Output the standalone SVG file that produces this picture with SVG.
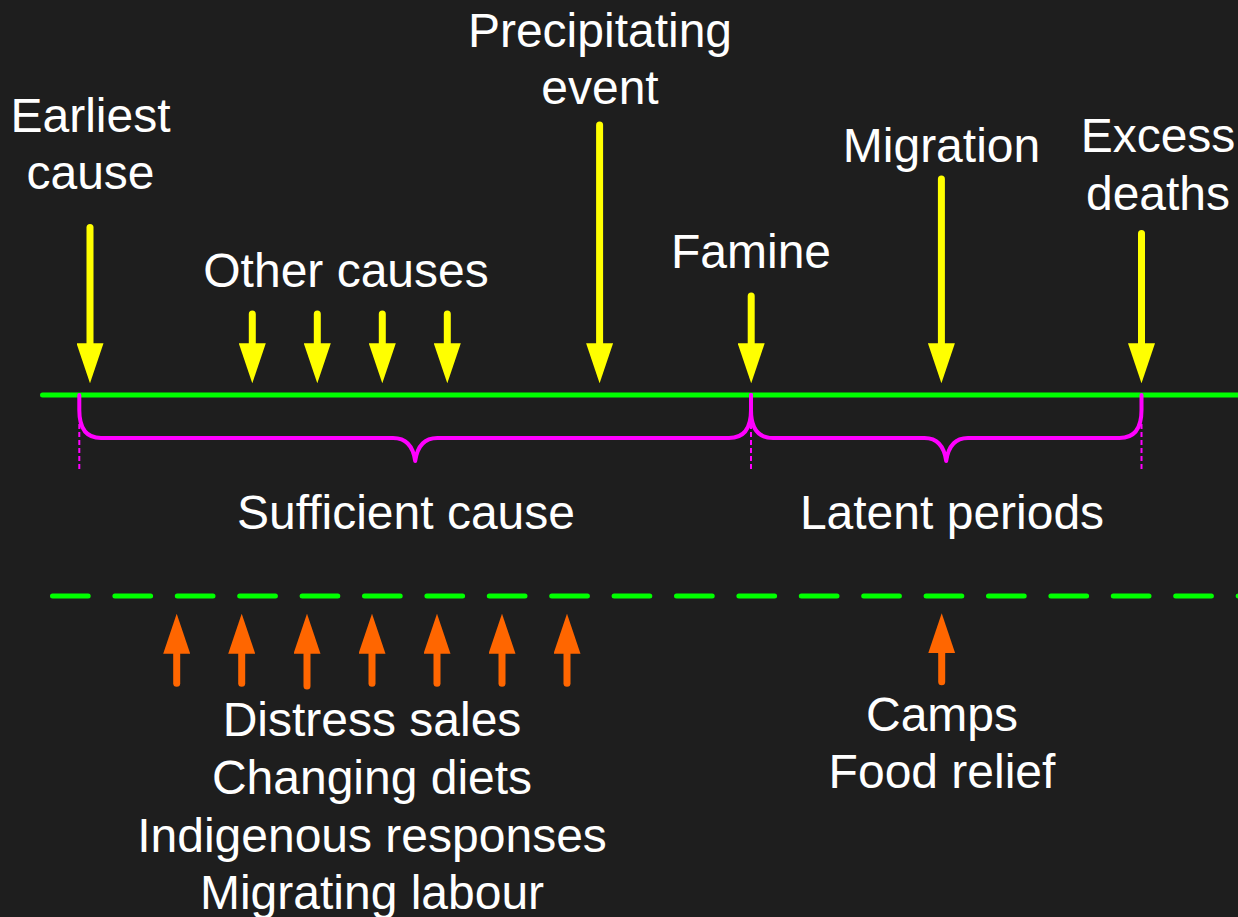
<svg xmlns="http://www.w3.org/2000/svg" width="1238" height="917" viewBox="0 0 1238 917">
<style>
text{font-family:"Liberation Sans",Arial,sans-serif;font-size:48px;fill:#fff;text-anchor:middle}
.ys{stroke:#ff0;stroke-width:7;stroke-linecap:round;fill:none;marker-end:url(#hy)}
.os{stroke:#ff6600;stroke-width:7;stroke-linecap:round;fill:none;marker-end:url(#ho)}
.tl{stroke:#0f0;stroke-width:5;stroke-linecap:round;fill:none}
.br{stroke:#f0f;stroke-width:4;stroke-linecap:round;stroke-linejoin:round;fill:none}
.tk{stroke:#f0f;stroke-width:2;stroke-dasharray:5 3;fill:none}
</style>
<defs>
<marker id="hy" viewBox="0 0 40 27" markerWidth="40" markerHeight="27" refX="0" refY="13.5" orient="auto" markerUnits="userSpaceOnUse"><path d="M0,0 L40,13.5 L0,27 Z" fill="#ff0"/></marker>
<marker id="ho" viewBox="0 0 40 27" markerWidth="40" markerHeight="27" refX="0" refY="13.5" orient="auto" markerUnits="userSpaceOnUse"><path d="M0,0 L40,13.5 L0,27 Z" fill="#ff6600"/></marker>
</defs>
<rect width="1238" height="917" fill="#1e1e1e"/>
<g id="timeline">
<line class="tl" x1="42.5" y1="395" x2="1245" y2="395"/>
<line class="tl" x1="52.5" y1="596" x2="1245" y2="596" stroke-dasharray="35.7 26.7"/>
</g>
<g id="braces">
<path class="tk" d="M79.3,424 V472 M751,424 V472 M1141.5,424 V472"/>
<path class="br" d="M79.3,395 L79.3,410 Q79.3,438 101,438 L393,438 Q412,438 415.2,461 Q418.4,438 437.4,438 L729,438 Q751,438 751,410 L751,395"/>
<path class="br" d="M751,395 L751,410 Q751,438 773,438 L924.5,438 Q943,438 946.2,461 Q949.4,438 968,438 L1119.5,438 Q1141.5,438 1141.5,410 L1141.5,395"/>
</g>
<g id="connectors">
<line class="ys" x1="90" y1="227.5" x2="90" y2="343.3"/>
<line class="ys" x1="252.3" y1="314" x2="252.3" y2="343.3"/>
<line class="ys" x1="317.3" y1="314" x2="317.3" y2="343.3"/>
<line class="ys" x1="382.3" y1="314" x2="382.3" y2="343.3"/>
<line class="ys" x1="447.3" y1="314" x2="447.3" y2="343.3"/>
<line class="ys" x1="599.6" y1="125" x2="599.6" y2="343.3"/>
<line class="ys" x1="751.2" y1="296" x2="751.2" y2="343.3"/>
<line class="ys" x1="941.4" y1="179" x2="941.4" y2="343.3"/>
<line class="ys" x1="1141.5" y1="233.5" x2="1141.5" y2="343.3"/>
<line class="os" x1="176.7" y1="683.3" x2="176.7" y2="653.7"/>
<line class="os" x1="241.7" y1="683.3" x2="241.7" y2="653.7"/>
<line class="os" x1="307" y1="686" x2="307" y2="653.7"/>
<line class="os" x1="372" y1="683.3" x2="372" y2="653.7"/>
<line class="os" x1="437" y1="683.3" x2="437" y2="653.7"/>
<line class="os" x1="502" y1="683.3" x2="502" y2="653.7"/>
<line class="os" x1="567" y1="683.3" x2="567" y2="653.7"/>
<line class="os" x1="941.7" y1="681.7" x2="941.7" y2="653.3"/>
</g>
<g id="earliest"><text x="90.5" y="131.5">Earliest</text><text x="90.5" y="188.5">cause</text></g>
<g id="other"><text x="346" y="287.3">Other causes</text></g>
<g id="precipitating"><text x="600" y="46.7">Precipitating</text><text x="600" y="104">event</text></g>
<g id="famine"><text x="751" y="267.7">Famine</text></g>
<g id="migration"><text x="941.5" y="162.3">Migration</text></g>
<g id="excess"><text x="1158" y="152.3">Excess</text><text x="1158" y="210">deaths</text></g>
<g id="sufficient"><text x="406" y="529">Sufficient cause</text></g>
<g id="latent"><text x="952" y="529">Latent periods</text></g>
<g id="responses"><text x="372" y="736">Distress sales</text><text x="372" y="794">Changing diets</text><text x="372" y="851.7">Indigenous responses</text><text x="372" y="909.3">Migrating labour</text></g>
<g id="relief"><text x="942" y="730.7">Camps</text><text x="942" y="788.3">Food relief</text></g>
</svg>
